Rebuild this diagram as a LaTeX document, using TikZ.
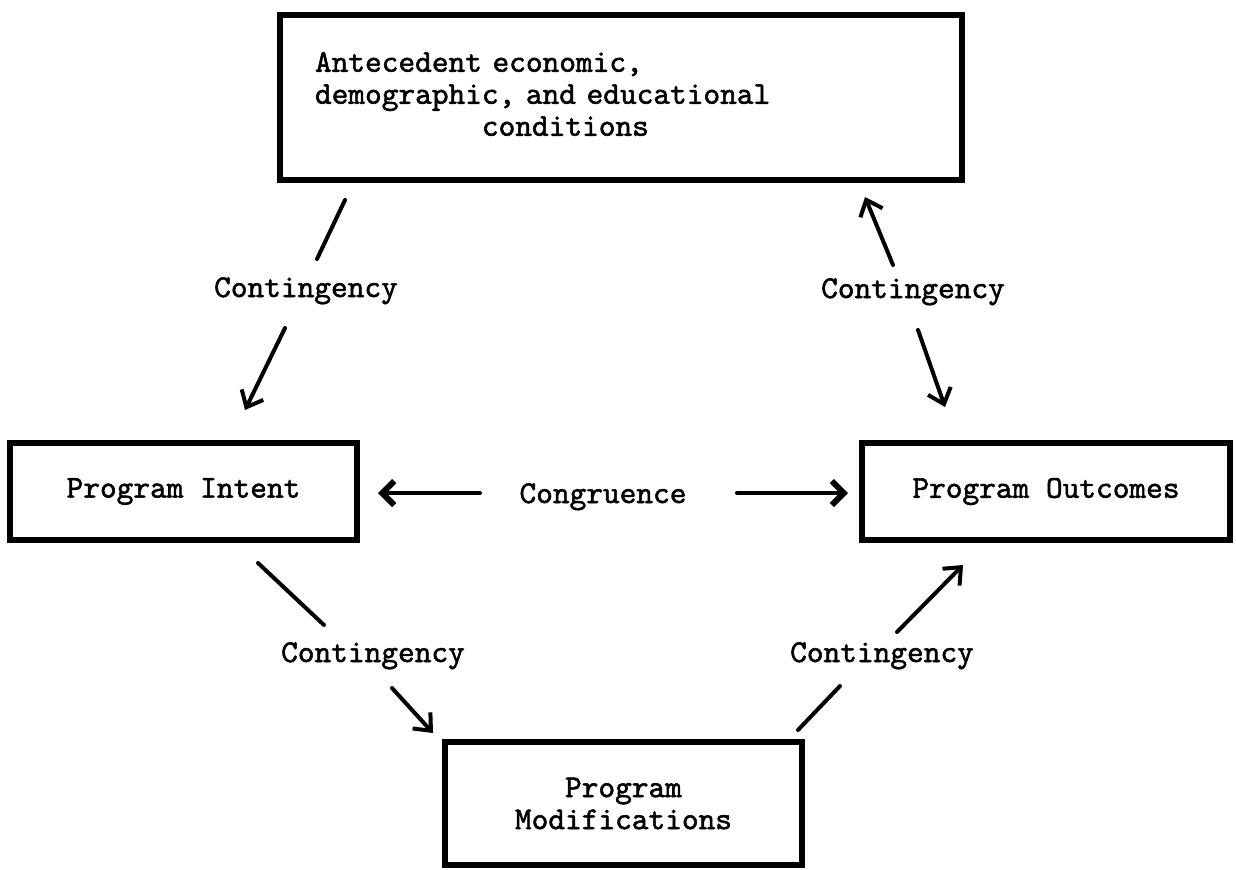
\documentclass[tikz,border=0pt]{standalone}
\usepackage{fontspec}
\setmonofont{lmmono10-regular.otf}[FakeBold=1.6]
\usepackage{tikz}
\usetikzlibrary{positioning}
\usetikzlibrary{arrows.meta}

\tikzset{
	typed/.style={font=\ttfamily\fontsize{15.9pt}{16pt}\selectfont},
	box/.style={typed, draw=black, line width=3pt, inner sep=0pt},
	link/.style={line width=2pt, line cap=round},
	arr/.style={link, -{Straight Barb[length=7pt,width=12pt]}},
	bigarr/.style={link, -{Straight Barb[length=6pt,width=12pt,line width=3pt]}}
}

\begin{document}
\begin{tikzpicture}[x=0.5pt,y=-0.5pt]
					\useasboundingbox (0,0) rectangle (1236,869);
					%Nodes
					\node[box, minimum width=341pt, minimum height=82.5pt, text width=306pt, align=left]
						(ante) at (621,97.5) {Antecedent economic,\\demographic, and educational\\\phantom{demographi}conditions};
					\node[box, minimum width=173.5pt, minimum height=48.5pt] (intent) at (183.5,491.5) {Program Intent};
					\node[box, minimum width=184pt, minimum height=48.5pt] (outc) at (1046,491.5) {Program Outcomes};
					\node[box, minimum width=178.5pt, minimum height=61.5pt, align=center] (modif) at (623.5,803.5) {Program\\Modifications};

					\node[typed, anchor=base] (cont1) at (306,297) {Contingency};
					\node[typed, anchor=base] (cont2) at (913,298) {Contingency};
					\node[typed, anchor=base] (congr) at (603,503) {Congruence};
					\node[typed, anchor=base] (cont3) at (373,662) {Contingency};
					\node[typed, anchor=base] (cont4) at (882,662) {Contingency};

					\coordinate      (a1) 	at 	(345,200);
					\coordinate      (a2) 	at 	(317,259);
					\coordinate      (a3) 	at 	(285,328);
					\coordinate      (a4) 	at 	(245,410);
					\coordinate      (b1) 	at 	(893,265);
					\coordinate      (b2) 	at 	(865,197);
					\coordinate      (b3) 	at 	(918,330);
					\coordinate      (b4) 	at 	(945,407);
					\coordinate      (c1) 	at 	(480,493);
					\coordinate      (c2) 	at 	(378,493);
					\coordinate      (c3) 	at 	(737,493);
					\coordinate      (c4) 	at 	(848,493);
					\coordinate      (d1) 	at 	(258,563);
					\coordinate      (d2) 	at 	(324,625);
					\coordinate      (d3) 	at 	(392,688);
					\coordinate      (d4) 	at 	(433,733);
					\coordinate      (e1) 	at 	(840,686);
					\coordinate      (e2) 	at 	(798,730);
					\coordinate      (e3) 	at 	(897,632);
					\coordinate      (e4) 	at 	(963,565);

					%Lines
					\draw[link] (a1) -- (a2);
					\draw[arr] (a3) -- (a4);
					\draw[arr] (b1) -- (b2);
					\draw[arr] (b3) -- (b4);
					\draw[bigarr] (c1) -- (c2);
					\draw[bigarr] (c3) -- (c4);
					\draw[link] (d1) -- (d2);
					\draw[arr] (d3) -- (d4);
					\draw[link] (e1) -- (e2);
					\draw[arr] (e3) -- (e4);

				\end{tikzpicture}
\end{document}
